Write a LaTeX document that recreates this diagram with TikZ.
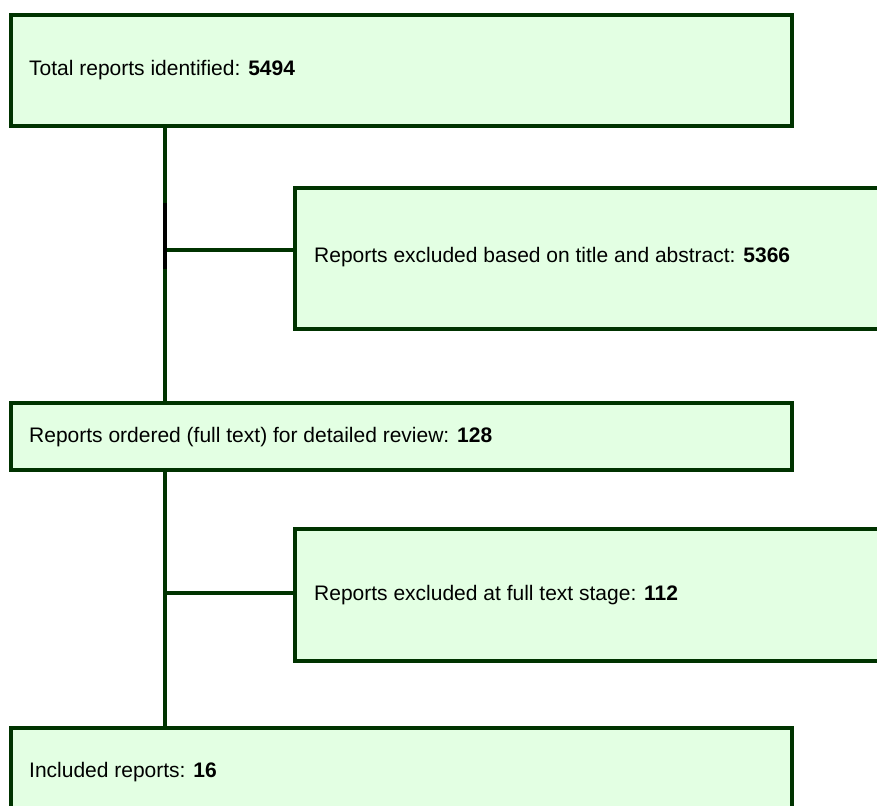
\documentclass[tikz,border=0pt]{standalone}
\usepackage{fontspec}
\setmainfont{Liberation Sans}
\usetikzlibrary{positioning}
\definecolor{boxline}{RGB}{0,51,0}
\definecolor{boxfill}{RGB}{227,255,227}

\begin{document}
\begin{tikzpicture}[x=1pt,y=-1pt]
	\tikzstyle{box} = [rectangle,draw=boxline,fill=boxfill,line width=3.6pt,anchor=north west,inner sep=0pt];
	\tikzstyle{boxtext} = [anchor=base west,inner sep=0pt,font=\fontsize{21}{25}\selectfont];
	\tikzstyle{link} = [draw=boxline,line width=3.4pt];
	\useasboundingbox (0,0) rectangle (877,805);
	\clip (0,0) rectangle (877,805);
	\fill[white] (0,0) rectangle (877,805);
	% boxes
	\node[box,minimum width=781pt,minimum height=111pt] (total) at (9,13) {};
	\node[box,minimum width=620pt,minimum height=141pt] (excludedtitle) at (293,186) {};
	\node[box,minimum width=781pt,minimum height=67pt] (ordered) at (9,401) {};
	\node[box,minimum width=620pt,minimum height=132pt] (excludedfull) at (293,527) {};
	\node[box,minimum width=781pt,minimum height=100pt] (included) at (9,726) {};
	% texts
	\node[boxtext] (totaltext) at (29,76) {Total reports identified: \textbf{5494}};
	\node[boxtext] (excludedtitletext) at (314,262) {Reports excluded based on title and abstract: \textbf{5366}};
	\node[boxtext] (orderedtext) at (29,442) {Reports ordered (full text) for detailed review: \textbf{128}};
	\node[boxtext] (excludedfulltext) at (314,600.5) {Reports excluded at full text stage: \textbf{112}};
	\node[boxtext] (includedtext) at (29,777) {Included reports: \textbf{16}};
	% connectors
	\coordinate (trunk) at (165,0);
	\coordinate (branchA) at (165,250);
	\coordinate (branchB) at (165,593);
	\draw[link] (total.south -| trunk) -- (ordered.north -| trunk);
	\draw[link] (ordered.south -| trunk) -- (included.north -| trunk);
	\draw[link] (branchA) -- (branchA -| excludedtitle.west);
	\draw[link] (branchB) -- (branchB -| excludedfull.west);
	\draw[line width=3.4pt,black] (165,203) -- (165,269);
\end{tikzpicture}
\end{document}
